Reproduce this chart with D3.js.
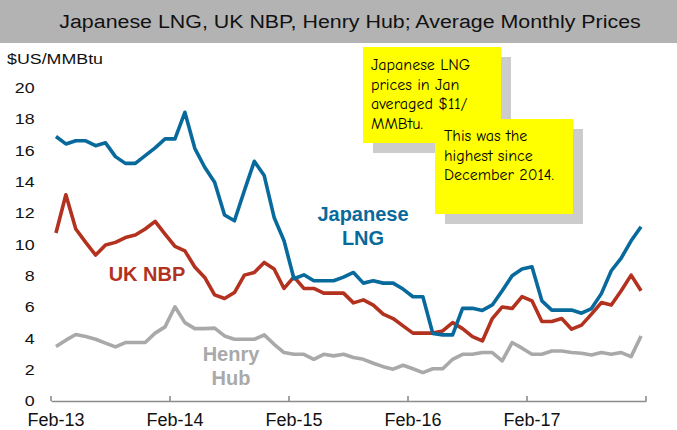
<!DOCTYPE html>
<html>
<head>
<meta charset="utf-8">
<script src="https://cdn.jsdelivr.net/npm/d3@7"></script>
<style>
  body { margin: 0; background: #fff; }
  svg { display: block; font-family: "Liberation Sans", Arial, sans-serif; }
  .note { font-family: "Comic Sans MS", "Comic Neue", cursive; font-size: 16px; fill: #000; }
</style>
</head>
<body>
<div id="chart"></div>
<script>
// monthly averages, Feb-13 .. Jan-18 ($US/MMBtu)
const japaneseLng = [16.87, 16.40, 16.60, 16.60, 16.29, 16.47, 15.59, 15.16, 15.16, 15.65,
    16.15, 16.72, 16.72, 18.42, 16.12, 14.91, 13.95, 11.87, 11.50, 13.42,
    15.29, 14.38, 11.71, 10.22, 7.80, 8.05, 7.67, 7.67, 7.67, 7.90,
    8.20, 7.52, 7.67, 7.52, 7.52, 7.14, 6.65, 6.65, 4.31, 4.22,
    4.22, 5.91, 5.91, 5.78, 6.13, 7.03, 7.99, 8.42, 8.56, 6.39,
    5.80, 5.80, 5.80, 5.60, 5.90, 6.85, 8.31, 9.12, 10.22, 11.12];
const ukNbp = [10.72, 13.16, 10.97, 10.12, 9.31, 9.95, 10.12, 10.43, 10.59, 10.97,
    11.46, 10.65, 9.86, 9.58, 8.55, 7.88, 6.77, 6.54, 6.92, 8.03,
    8.20, 8.84, 8.42, 7.18, 7.92, 7.18, 7.18, 6.88, 6.88, 6.88,
    6.26, 6.45, 6.12, 5.54, 5.26, 4.79, 4.33, 4.33, 4.33, 4.47,
    5.00, 4.62, 4.11, 3.83, 5.26, 6.00, 5.90, 6.66, 6.39, 5.07,
    5.07, 5.26, 4.58, 4.84, 5.54, 6.28, 6.12, 7.03, 8.03, 7.03];
const henryHub = [3.47, 3.88, 4.24, 4.11, 3.94, 3.69, 3.45, 3.73, 3.73, 3.73,
    4.33, 4.73, 6.01, 5.00, 4.62, 4.62, 4.65, 4.15, 3.94, 3.94,
    3.94, 4.22, 3.62, 3.09, 2.98, 2.98, 2.66, 2.98, 2.88, 2.98,
    2.77, 2.66, 2.41, 2.19, 2.03, 2.28, 2.06, 1.81, 2.06, 2.06,
    2.66, 2.98, 2.98, 3.09, 3.09, 2.56, 3.73, 3.37, 2.98, 2.98,
    3.19, 3.19, 3.09, 3.05, 2.94, 3.09, 2.98, 3.09, 2.83, 4.15];

const months = d3.timeMonth.range(new Date(2013, 1, 1), new Date(2018, 1, 1));
const xTickLabels = ["Feb-13", "Feb-14", "Feb-15", "Feb-16", "Feb-17"];
const yTicks = [0, 2, 4, 6, 8, 10, 12, 14, 16, 18, 20];

const series = [
    {name: "Japanese LNG", values: japaneseLng, color: "#086a9c"},
    {name: "UK NBP", values: ukNbp, color: "#b2321f"},
    {name: "Henry Hub", values: henryHub, color: "#a9a9a9"}
];

const noteA = ["Japanese LNG", "prices in Jan", "averaged $11/", "MMBtu."];
const noteB = ["This was the", "highest since", "December 2014."];

const width = 677, height = 430;
const stretch = 1.15;   // title and y labels are drawn a bit wide in the original

const svg = d3.select('#chart').append('svg')
    .attr('width', width).attr('height', height);

svg.append('rect').attr('width', width).attr('height', height).attr('fill', '#fff');

// title band
svg.append('rect').attr('x', 0).attr('y', 0).attr('width', width).attr('height', 43)
    .attr('fill', '#b3b3b3');
svg.append('text')
    .attr('transform', `translate(350,28) scale(${stretch},1)`)
    .attr('text-anchor', 'middle')
    .style('font-size', '18.6px').attr('fill', '#111')
    .text("Japanese LNG, UK NBP, Henry Hub; Average Monthly Prices");

svg.append('text')
    .attr('transform', `translate(7,64) scale(${stretch},1)`)
    .style('font-size', '15.5px').attr('fill', '#111')
    .text("$US/MMBtu");

let x = d3.scaleBand().domain(months).range([51, 646]);
let y = d3.scaleLinear().domain([0, 20]).range([401, 87.5]);
let axisY = y(0);

// y axis: labels only
let yAxis = svg.append('g').attr('transform', 'translate(38,0)')
    .call(d3.axisLeft(y).tickValues(yTicks).tickSize(0).tickPadding(3));
yAxis.select('.domain').remove();
yAxis.selectAll('text')
    .attr('transform', `scale(${stretch},1)`)
    .style('font-size', '15.5px').attr('fill', '#111');

// x axis: labels at category centres, ticks between categories
let parseLabel = d3.timeParse('%b-%y');
let xAxis = svg.append('g').attr('transform', `translate(0,${axisY})`)
    .call(d3.axisBottom(x)
        .tickValues(xTickLabels.map(parseLabel))
        .tickFormat(d3.timeFormat('%b-%y'))
        .tickSize(0).tickSizeOuter(0).tickPadding(12));
xAxis.select('.domain').attr('stroke', '#8c8c8c').attr('stroke-width', 1.6);
xAxis.selectAll('text')
    .style('font-size', '18px').attr('fill', '#111');

let tickEdges = xTickLabels.map(d => x(parseLabel(d))).concat([x.range()[1]]);
svg.append('g').selectAll('line')
    .data(tickEdges)
    .enter()
    .append('line')
    .attr('x1', d => d).attr('x2', d => d)
    .attr('y1', axisY).attr('y2', axisY - 5)
    .attr('stroke', '#8c8c8c').attr('stroke-width', 1.6);

// lines
let line = d3.line()
    .x((d, i) => x(months[i]) + x.bandwidth() / 2)
    .y(d => y(d));

svg.append('g').selectAll('path')
    .data(series.slice().reverse())
    .enter()
    .append('path')
    .attr('d', d => line(d.values))
    .attr('fill', 'none')
    .attr('stroke', d => d.color)
    .attr('stroke-width', 3.6)
    .attr('stroke-linejoin', 'round');

// series labels
let labels = [
    {lines: ["Japanese", "LNG"], x: 363, y: 221, color: series[0].color},
    {lines: ["UK NBP"], x: 147, y: 281, color: series[1].color},
    {lines: ["Henry", "Hub"], x: 231, y: 361, color: series[2].color}
];
labels.forEach(l => {
    l.lines.forEach((t, k) => {
        svg.append('text')
            .attr('x', l.x).attr('y', l.y + k * 24)
            .attr('text-anchor', 'middle')
            .style('font-size', '20px').style('font-weight', 'bold')
            .attr('fill', l.color)
            .text(t);
    });
});

// callout boxes with drop shadows
function callout(bx, by, bw, bh, lines, tx, ty) {
    svg.append('rect').attr('x', bx + 10).attr('y', by + 10).attr('width', bw).attr('height', bh)
        .attr('fill', '#cccccc');
    svg.append('rect').attr('x', bx).attr('y', by).attr('width', bw).attr('height', bh)
        .attr('fill', '#ffff00');
    lines.forEach((t, k) => {
        svg.append('text').attr('class', 'note')
            .attr('x', tx).attr('y', ty + k * 19.5)
            .text(t);
    });
}
callout(363, 47, 138, 96, noteA, 371, 70);
callout(435, 119, 138, 95, noteB, 444, 141);
</script>
</body>
</html>
